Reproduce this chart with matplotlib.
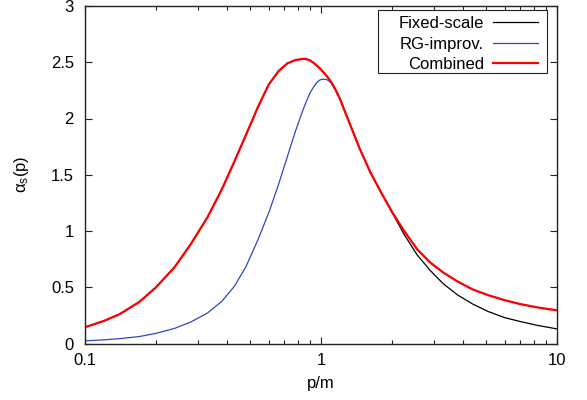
import numpy as np
import matplotlib
matplotlib.use("Agg")
import matplotlib.pyplot as plt
from matplotlib.patches import Rectangle

plt.rcParams['font.family'] = ['Liberation Sans', 'DejaVu Sans']
plt.rcParams['mathtext.fontset'] = 'custom'
plt.rcParams['mathtext.rm'] = 'Liberation Sans'
plt.rcParams['mathtext.it'] = 'Liberation Sans:italic'

# momentum grid p/m
p = [0.1, 0.12, 0.14, 0.17, 0.2, 0.24, 0.28, 0.33, 0.38, 0.43, 0.48, 0.54,
     0.6, 0.66, 0.72, 0.78, 0.84, 0.87, 0.9, 0.93, 0.96, 0.99, 1.02, 1.06,
     1.1, 1.15, 1.2, 1.32, 1.46, 1.62, 1.8, 2.0, 2.25, 2.55, 2.9, 3.3, 3.8,
     4.4, 5.1, 6.0, 7.0, 8.3, 10]

fixed = [0.145, 0.20, 0.26, 0.37, 0.50, 0.68, 0.88, 1.12, 1.37, 1.62, 1.85, 2.10,
         2.30, 2.42, 2.49, 2.52, 2.53, 2.527, 2.515, 2.495, 2.47, 2.445, 2.415, 2.375,
         2.33, 2.26, 2.18, 1.96, 1.73, 1.52, 1.34, 1.165, 0.97, 0.79, 0.65, 0.53, 0.43,
         0.35, 0.285, 0.23, 0.195, 0.16, 0.13]

rg = [0.024, 0.032, 0.043, 0.062, 0.09, 0.135, 0.19, 0.27, 0.375, 0.51, 0.68, 0.92,
      1.16, 1.41, 1.66, 1.89, 2.08, 2.16, 2.23, 2.28, 2.32, 2.343, 2.35, 2.345,
      2.32, 2.255, 2.18, 1.96, 1.73, 1.52, 1.34, 1.17, 1.00, 0.84, 0.72, 0.63, 0.55,
      0.48, 0.43, 0.385, 0.35, 0.32, 0.295]

combined = [0.145, 0.20, 0.26, 0.37, 0.50, 0.68, 0.88, 1.12, 1.37, 1.62, 1.85, 2.10,
            2.30, 2.42, 2.49, 2.52, 2.53, 2.527, 2.515, 2.495, 2.47, 2.445, 2.415, 2.375,
            2.33, 2.26, 2.18, 1.96, 1.73, 1.52, 1.34, 1.17, 1.00, 0.84, 0.72, 0.63, 0.55,
            0.48, 0.43, 0.385, 0.35, 0.32, 0.295]

yticks = [0, 0.5, 1, 1.5, 2, 2.5, 3]
ylabels = ['0', '0.5', '1', '1.5', '2', '2.5', '3']

W, H = 587, 400
fig = plt.figure(figsize=(W/100, H/100), dpi=100)
ax = fig.add_axes([85/W, 1-343.5/H, 472/W, 337.5/H])

ax.plot(p, fixed, color='black', lw=0.9, label='Fixed-scale')
ax.plot(p, rg, color='#2a48c0', lw=0.9, label='RG-improv.')
ax.plot(p, combined, color='#ff0000', lw=1.6, label='Combined')

ax.set_xscale('log')
ax.set_xlim(0.1, 10)
ax.set_ylim(0, 3)
ax.set_xticks([0.1, 1, 10])
ax.set_xticklabels(['0.1', '1', '10'])
ax.set_yticks(yticks)
ax.set_yticklabels(ylabels)

ax.tick_params(which='both', direction='in', top=True, right=True, labelsize=12,
               color='#222222')
ax.tick_params(axis='x', pad=7)
ax.tick_params(axis='y', pad=8)
ax.tick_params(which='major', length=5, width=0.8)
ax.tick_params(which='minor', length=3, width=0.8)
for s in ax.spines.values():
    s.set_linewidth(1.0)
    s.set_color('#222222')

ax.set_xlabel('p/m', fontsize=12)
ax.xaxis.set_label_coords(0.5, -0.096)
ax.set_ylabel('α$_\\mathrm{s}$(p)', fontsize=12)
ax.yaxis.set_label_coords(-0.115, 0.5)

leg = ax.legend(loc='upper right', markerfirst=False, frameon=False, fontsize=12,
                handlelength=2.7, handletextpad=0.55, borderpad=0, borderaxespad=0,
                labelspacing=0.33, bbox_to_anchor=(538/W, 1-16/H),
                bbox_transform=fig.transFigure)
for t in leg.get_texts():
    t.set_ha('right')

box = Rectangle((378/W, 1-73/H), 169/W, 63/H, transform=fig.transFigure,
                fill=False, edgecolor='#222222', lw=0.8, zorder=5)
fig.add_artist(box)

fig.savefig('out.png', dpi=100)
